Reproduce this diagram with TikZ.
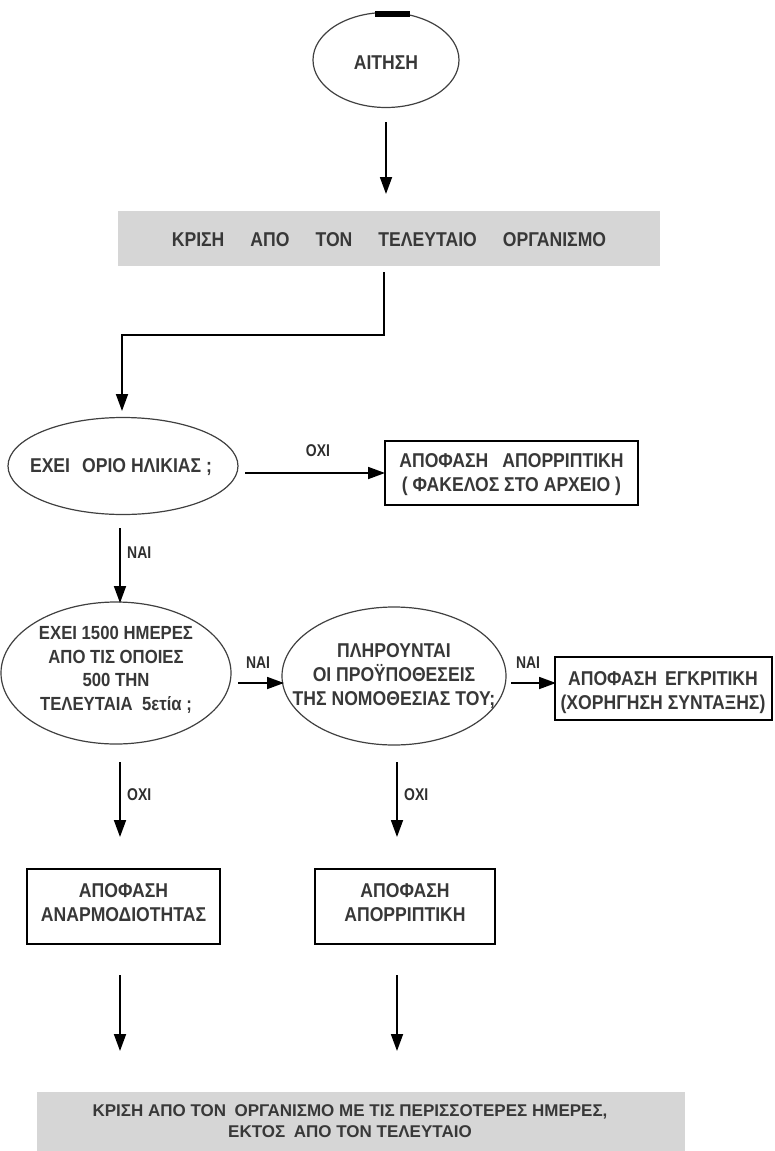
\documentclass[tikz,border=0pt]{standalone}
\usepackage{fontspec}
\setmainfont[FakeStretch=0.88]{Liberation Sans}
\newfontfamily\labelfont[FakeStretch=0.82]{Liberation Sans}
\newfontfamily\widefont{Liberation Sans}
\usetikzlibrary{shapes.geometric,arrows.meta}

\tikzset{
  ell/.style={ellipse, draw=black!75, line width=1.2pt, inner sep=0},
  decbox/.style={draw=black, line width=1.4pt, fill=white, inner sep=0},
  greybox/.style={fill=black!16, inner sep=0},
  txt/.style={text=black!78, font=\bfseries\fontsize{20}{24}\selectfont, align=center, inner sep=0},
  smalltxt/.style={text=black!78, font=\widefont\bfseries\fontsize{17}{21}\selectfont, align=center, inner sep=0},
  lab/.style={text=black!82, font=\labelfont\bfseries\fontsize{17}{20}\selectfont, inner sep=0},
  arr/.style={line width=1.8pt, -{Triangle[length=17pt,width=12pt]}},
}

\begin{document}
\begin{tikzpicture}[x=1pt,y=-1pt]
\useasboundingbox (0,0) rectangle (775,1151);

% start
\node[ell, minimum width=146, minimum height=95] (start) at (386,60) {};
\fill[black] (375,11) rectangle (410,17);
\node[txt] (startt) at (386,63) {ΑΙΤΗΣΗ};

% first review
\node[greybox, minimum width=542, minimum height=55] (review) at (389,238.5) {};
\node[txt] (reviewt) at (389,240) {ΚΡΙΣΗ\hspace{1.3em}ΑΠΟ\hspace{1.3em}ΤΟΝ\hspace{1.3em}ΤΕΛΕΥΤΑΙΟ\hspace{1.3em}ΟΡΓΑΝΙΣΜΟ};

% age limit question
\node[ell, minimum width=230, minimum height=97] (age) at (123,466) {};
\node[txt] (aget) at (121,467) {ΕΧΕΙ\hspace{0.6em}ΟΡΙΟ ΗΛΙΚΙΑΣ ;};

% rejection (archive)
\node[decbox, minimum width=253, minimum height=64] (rej1) at (511.5,473) {};
\node[txt] (rej1t) at (511.5,475) {ΑΠΟΦΑΣΗ\hspace{0.7em}ΑΠΟΡΡΙΠΤΙΚΗ\\( ΦΑΚΕΛΟΣ ΣΤΟ ΑΡΧΕΙΟ )};

% days question
\node[ell, minimum width=230, minimum height=142] (days) at (116,673) {};
\node[txt, font=\bfseries\fontsize{19}{23.5}\selectfont] (dayst) at (116,670) {ΕΧΕΙ 1500 ΗΜΕΡΕΣ\\ΑΠΟ ΤΙΣ ΟΠΟΙΕΣ\\500 ΤΗΝ\\ΤΕΛΕΥΤΑΙΑ\hspace{0.5em}5ετία ;};

% legislation question
\node[ell, minimum width=224, minimum height=138] (law) at (394,676) {};
\node[txt] (lawt) at (394,676) {ΠΛΗΡΟΥΝΤΑΙ\\ΟΙ ΠΡΟΫΠΟΘΕΣΕΙΣ\\ΤΗΣ ΝΟΜΟΘΕΣΙΑΣ ΤΟΥ;};

% approval
\node[decbox, minimum width=217, minimum height=63] (appr) at (663.5,688.5) {};
\node[txt] (apprt) at (663,693) {ΑΠΟΦΑΣΗ\hspace{0.4em}ΕΓΚΡΙΤΙΚΗ\\(ΧΟΡΗΓΗΣΗ ΣΥΝΤΑΞΗΣ)};

% lower decisions
\node[decbox, minimum width=193, minimum height=75] (incomp) at (123.5,906.5) {};
\node[txt] (incompt) at (123.5,903) {ΑΠΟΦΑΣΗ\\ΑΝΑΡΜΟΔΙΟΤΗΤΑΣ};
\node[decbox, minimum width=180, minimum height=75] (rej2) at (405,906.5) {};
\node[txt] (rej2t) at (405,903) {ΑΠΟΦΑΣΗ\\ΑΠΟΡΡΙΠΤΙΚΗ};

% final review
\node[greybox, minimum width=648, minimum height=59] (final) at (361,1121.5) {};
\node[smalltxt] (finalt) at (350,1121) {ΚΡΙΣΗ ΑΠΟ ΤΟΝ\hspace{0.5em}ΟΡΓΑΝΙΣΜΟ ΜΕ ΤΙΣ ΠΕΡΙΣΣΟΤΕΡΕΣ ΗΜΕΡΕΣ,\\ΕΚΤΟΣ\hspace{0.5em}ΑΠΟ ΤΟΝ ΤΕΛΕΥΤΑΙΟ};

% arrow end points
\coordinate (a1s) at (386,122);  \coordinate (a1e) at (386,194);
\coordinate (b1s) at (384,272);  \coordinate (b1k) at (384,335);
\coordinate (b1m) at (122,335);  \coordinate (b1e) at (122,411);
\coordinate (c1s) at (245,473);  \coordinate (c1e) at (385,473);
\coordinate (d1s) at (120,528);  \coordinate (d1e) at (120,603);
\coordinate (e1s) at (238,683);  \coordinate (e1e) at (284,683);
\coordinate (f1s) at (511,683);  \coordinate (f1e) at (556,683);
\coordinate (g1s) at (120,762);  \coordinate (g1e) at (120,837);
\coordinate (h1s) at (397,762);  \coordinate (h1e) at (397,837);
\coordinate (i1s) at (120,975);  \coordinate (i1e) at (120,1051);
\coordinate (j1s) at (397,975);  \coordinate (j1e) at (397,1051);

\draw[arr] (a1s) -- (a1e);
\draw[arr] (b1s) -- (b1k) -- (b1m) -- (b1e);
\draw[arr] (c1s) -- (c1e);
\draw[arr] (d1s) -- (d1e);
\draw[arr] (e1s) -- (e1e);
\draw[arr] (f1s) -- (f1e);
\draw[arr] (g1s) -- (g1e);
\draw[arr] (h1s) -- (h1e);
\draw[arr] (i1s) -- (i1e);
\draw[arr] (j1s) -- (j1e);

% branch labels
\node[lab] (l1) at (318,451) {ΟΧΙ};
\node[lab, anchor=west] (l2) at (127,553) {ΝΑΙ};
\node[lab] (l3) at (258,663) {ΝΑΙ};
\node[lab] (l4) at (528,663) {ΝΑΙ};
\node[lab, anchor=west] (l5) at (127,795) {ΟΧΙ};
\node[lab, anchor=west] (l6) at (404,795) {ΟΧΙ};
\end{tikzpicture}
\end{document}
